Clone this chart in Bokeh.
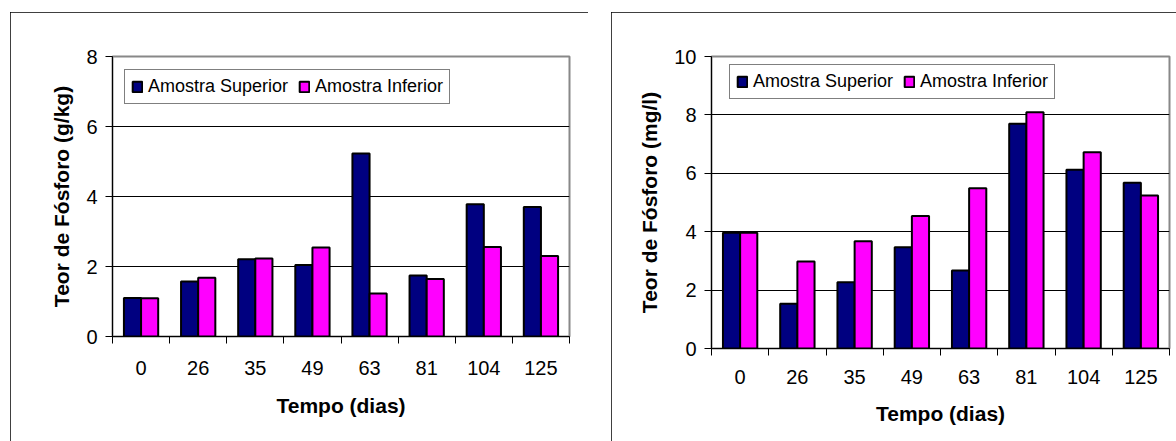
import numpy as np
from bokeh.plotting import figure
from bokeh.layouts import row
from bokeh.models import Range1d, FixedTicker, Legend, LegendItem
from bokeh.embed import file_html
from bokeh.resources import INLINE

# ---- data ----
days = ["0", "26", "35", "49", "63", "81", "104", "125"]
solo_superior = [1.10, 1.57, 2.21, 2.04, 5.23, 1.74, 3.78, 3.70]
solo_inferior = [1.09, 1.68, 2.23, 2.54, 1.23, 1.64, 2.56, 2.30]
agua_superior = [3.96, 1.53, 2.27, 3.47, 2.67, 7.70, 6.12, 5.68]
agua_inferior = [3.96, 2.98, 3.67, 4.54, 5.49, 8.09, 6.72, 5.24]
series_names = ["Amostra Superior", "Amostra Inferior"]
series_colors = ["#000080", "#FF00FF"]
left_yticks = [0, 2, 4, 6, 8]
right_yticks = [0, 2, 4, 6, 8, 10]
left_ytitle = "Teor de Fósforo (g/kg)"
right_ytitle = "Teor de Fósforo (mg/l)"
xtitle = "Tempo (dias)"

FONT = "Liberation Sans"


def make_chart(sup, inf, yticks, ytitle, width, height, mb, legend_loc,
               xlab_standoff, xtitle_standoff, margin):
    n = len(days)
    centers = np.arange(n) + 0.5
    p = figure(width=width, height=height, output_backend="svg",
               toolbar_location=None, x_range=Range1d(0, n),
               y_range=Range1d(yticks[0], yticks[-1]),
               min_border_left=mb[0], min_border_right=mb[1],
               min_border_top=mb[2], min_border_bottom=mb[3],
               margin=margin,
               styles={"outline": "1px solid #000000", "outline-offset": "-1px"})
    p.title.visible = False
    bw = 0.3
    r1 = p.vbar(x=centers - bw / 2, top=sup, width=bw, bottom=0,
                fill_color=series_colors[0], line_color="black", line_width=2)
    r2 = p.vbar(x=centers + bw / 2, top=inf, width=bw, bottom=0,
                fill_color=series_colors[1], line_color="black", line_width=2)

    p.outline_line_color = "#888888"
    p.outline_line_width = 2
    p.xgrid.visible = False
    p.ygrid.grid_line_color = "black"
    p.ygrid.grid_line_width = 1
    p.ygrid.ticker = FixedTicker(ticks=yticks)

    xa = p.xaxis[0]
    xa.ticker = FixedTicker(ticks=list(centers), minor_ticks=list(range(n + 1)))
    xa.major_label_overrides = {float(c): d for c, d in zip(centers, days)}
    xa.major_tick_out = 0
    xa.major_tick_in = 0
    xa.minor_tick_out = 7
    xa.minor_tick_in = 0
    xa.minor_tick_line_color = "black"
    xa.major_label_standoff = xlab_standoff
    xa.axis_label = xtitle
    xa.axis_label_standoff = xtitle_standoff

    ya = p.yaxis[0]
    ya.ticker = FixedTicker(ticks=yticks)
    ya.major_tick_out = 7
    ya.major_tick_in = 0
    ya.minor_tick_line_color = None
    ya.major_label_standoff = 8
    ya.axis_label = ytitle
    ya.axis_label_standoff = 10

    for ax in (xa, ya):
        ax.axis_line_color = "black"
        ax.axis_line_width = 1
        ax.major_tick_line_color = "black"
        ax.major_label_text_font = FONT
        ax.major_label_text_font_size = "20px"
        ax.major_label_text_color = "black"
        ax.axis_label_text_font = FONT
        ax.axis_label_text_font_size = "21px"
        ax.axis_label_text_font_style = "bold"
        ax.axis_label_text_color = "black"

    legend = Legend(items=[LegendItem(label=series_names[0], renderers=[r1]),
                           LegendItem(label=series_names[1], renderers=[r2])],
                    location=legend_loc, orientation="horizontal",
                    border_line_color="black", border_line_width=1,
                    background_fill_color="white", background_fill_alpha=1,
                    label_text_font=FONT, label_text_font_size="18px",
                    label_text_color="black",
                    glyph_width=12, glyph_height=13, label_standoff=5,
                    spacing=10, padding=6, margin=0)
    p.add_layout(legend)
    return p


# frames are aligned in a row: both share top border 44 and bottom border 106
left = make_chart(solo_superior, solo_inferior, left_yticks, left_ytitle,
                  578, 430, (102, 19, 44, 106), (12, 232), 17, 16, (12, 0, 0, 10))
right = make_chart(agua_superior, agua_inferior, right_yticks, right_ytitle,
                   570, 442, (100, 12, 44, 106), (18, 249), 14, 15, (12, 0, 0, 23))

layout = row(left, right)
open("out.html", "w").write(file_html(layout, INLINE))
